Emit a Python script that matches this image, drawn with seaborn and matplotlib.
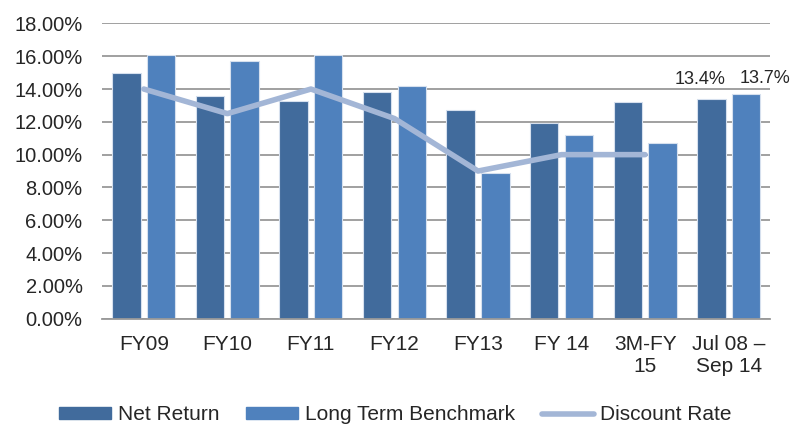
import numpy as np
import pandas as pd
import seaborn as sns
import matplotlib.pyplot as plt
from matplotlib.patches import Patch
from matplotlib.lines import Line2D
from matplotlib.ticker import PercentFormatter

# Dados
periodos = ["FY09", "FY10", "FY11", "FY12", "FY13", "FY 14", "3M-FY\n15", "Jul 08 –\nSep 14"]
net_return = [15.0, 13.6, 13.3, 13.8, 12.7, 11.9, 13.2, 13.4]
benchmark = [16.1, 15.7, 16.1, 14.2, 8.85, 11.2, 10.7, 13.7]
discount_rate = [14.0, 12.5, 14.0, 12.2, 9.0, 10.0, 10.0, np.nan]

cor_net = "#416B9C"
cor_bench = "#4F81BD"
cor_disc = "#A3B6D6"

sns.set_style("white")
plt.rcParams["font.family"] = ["Liberation Sans", "DejaVu Sans"]

df = pd.DataFrame({
    "periodo": periodos * 2,
    "valor": net_return + benchmark,
    "serie": ["Net Return"] * len(periodos) + ["Long Term Benchmark"] * len(periodos),
})
df_linha = pd.DataFrame({"periodo": periodos, "valor": discount_rate}).dropna()

fig, ax = plt.subplots(figsize=(7.91, 4.26), dpi=100)
fig.subplots_adjust(left=0.129, right=0.974, top=0.945, bottom=0.252)

sns.barplot(data=df, x="periodo", y="valor", hue="serie", order=periodos,
            palette=[cor_net, cor_bench], saturation=1, width=0.83, gap=0.18,
            edgecolor="#D6E0EE", linewidth=0.8, legend=False, ax=ax, zorder=2)

sns.lineplot(data=df_linha, x="periodo", y="valor", color=cor_disc, linewidth=4,
             ax=ax, zorder=3)

# Rótulos das duas últimas barras
n = len(periodos) - 1
ax.annotate(f"{net_return[-1]:.1f}%", (n - 0.2, net_return[-1]), xytext=(-8.5, 8),
            textcoords="offset points", ha="center", va="bottom", fontsize=13)
ax.annotate(f"{benchmark[-1]:.1f}%", (n + 0.2, benchmark[-1]), xytext=(14, 5),
            textcoords="offset points", ha="center", va="bottom", fontsize=13)

ax.set_ylim(0, 18)
ax.set_yticks(np.arange(0, 18.01, 2))
ax.yaxis.set_major_formatter(PercentFormatter(decimals=2))
ax.set_xlim(-0.5, len(periodos) - 0.5)
ax.grid(axis="y", color="#999999", linewidth=1.3, zorder=0)
ax.set_axisbelow(True)
for lado in ["top", "right", "left"]:
    ax.spines[lado].set_visible(False)
ax.spines["bottom"].set_color("#999999")
ax.spines["bottom"].set_linewidth(1.3)
ax.set_xlabel("")
ax.set_ylabel("")
ax.tick_params(axis="both", length=0)
ax.tick_params(axis="y", labelsize=14.5, pad=14)
ax.tick_params(axis="x", labelsize=15, pad=12)

handles = [
    Patch(color=cor_net, label="Net Return"),
    Patch(color=cor_bench, label="Long Term Benchmark"),
    Line2D([], [], color=cor_disc, linewidth=4, label="Discount Rate"),
]
fig.legend(handles=handles, loc="lower center", ncol=3, frameon=False,
           fontsize=15, bbox_to_anchor=(0.5, -0.04), handlelength=2.5,
           handleheight=0.5, columnspacing=1.3, handletextpad=0.3)

plt.savefig("out.png", dpi=100)
